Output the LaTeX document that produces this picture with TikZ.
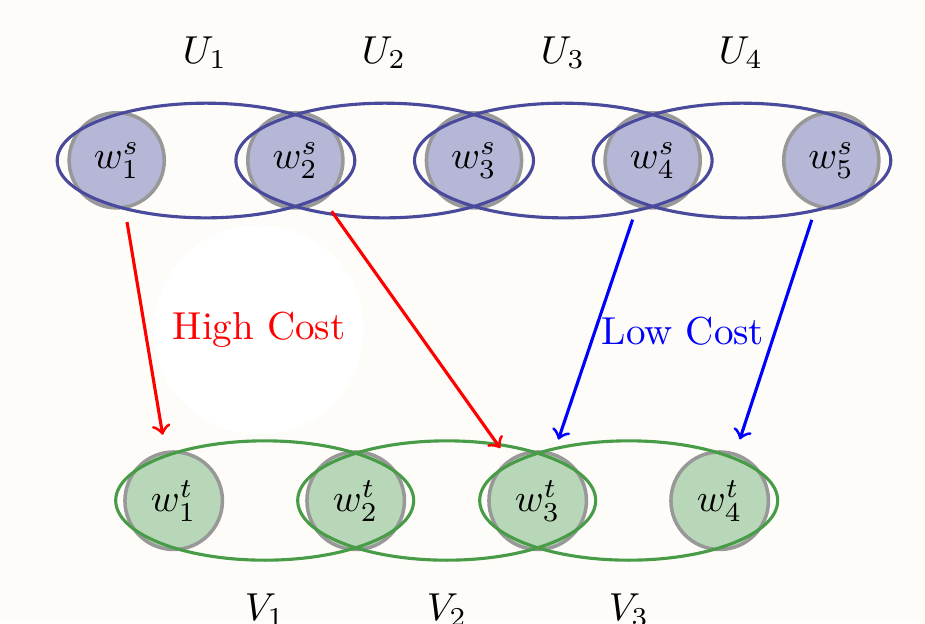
\documentclass[tikz,border=0pt]{standalone}
\usetikzlibrary{shapes.geometric}
\definecolor{bgc}{RGB}{253,252,248}
\definecolor{ublue}{RGB}{74,74,156}
\definecolor{vgreen}{RGB}{72,156,72}
\definecolor{sfill}{RGB}{182,182,215}
\definecolor{tfill}{RGB}{184,215,184}
\definecolor{ring}{RGB}{152,152,152}
\begin{document}
\begin{tikzpicture}[x=0.2564pt,y=-0.2564pt,
  snode/.style={circle, draw=ring, fill=sfill, line width=0.9pt, minimum size=24.4pt, inner sep=0pt},
  tnode/.style={circle, draw=ring, fill=tfill, line width=0.9pt, minimum size=25.0pt, inner sep=0pt},
  ugroup/.style={ellipse, draw=ublue, line width=0.8pt, minimum width=76.3pt, minimum height=29.4pt, inner sep=0pt},
  vgroup/.style={ellipse, draw=vgreen, line width=0.8pt, minimum width=76.4pt, minimum height=30.6pt, inner sep=0pt},
  lab/.style={anchor=base, inner sep=0pt},
  hi/.style={->, red, thick, shorten <=3.4pt, shorten >=3.6pt},
  lo/.style={->, blue, thick, shorten <=3.4pt, shorten >=3.6pt}]
\fill[bgc] (0,0) rectangle (925,623);
\useasboundingbox (0,0) rectangle (925,623);

\node[circle, fill=white, minimum size=53.8pt, inner sep=0pt, text=red] (hc) at (259,330) {High Cost};

\node[snode] (s1) at (116.7,160.3) {$w^s_1$};
\node[snode] (s2) at (295.35,160.3) {$w^s_2$};
\node[snode] (s3) at (474,160.3) {$w^s_3$};
\node[snode] (s4) at (652.65,160.3) {$w^s_4$};
\node[snode] (s5) at (831.3,160.3) {$w^s_5$};

\node[tnode] (t1) at (173.7,500.7) {$w^t_1$};
\node[tnode] (t2) at (355.7,500.7) {$w^t_2$};
\node[tnode] (t3) at (537.7,500.7) {$w^t_3$};
\node[tnode] (t4) at (719.7,500.7) {$w^t_4$};

\node[ugroup] (U1) at (206,160.5) {};
\node[ugroup] (U2) at (384.7,160.5) {};
\node[ugroup] (U3) at (563.3,160.5) {};
\node[ugroup] (U4) at (742,160.5) {};

\node[vgroup] (V1) at (264.7,500.5) {};
\node[vgroup] (V2) at (446.7,500.5) {};
\node[vgroup] (V3) at (628.7,500.5) {};

\node[lab] (lu1) at (205,63) {$U_1$};
\node[lab] (lu2) at (384,63) {$U_2$};
\node[lab] (lu3) at (563,63) {$U_3$};
\node[lab] (lu4) at (741,63) {$U_4$};

\node[lab] (lv1) at (265,620.5) {$V_1$};
\node[lab] (lv2) at (447,620.5) {$V_2$};
\node[lab] (lv3) at (629,620.5) {$V_3$};

\draw[hi, shorten >=4.2pt] (s1) -- (t1);
\draw[hi] (s2) -- (t3);
\draw[lo] (s4) -- (t3);
\draw[lo] (s5) -- (t4);

\node[lab, text=blue] (lc) at (683,344) {Low Cost};
\end{tikzpicture}
\end{document}
